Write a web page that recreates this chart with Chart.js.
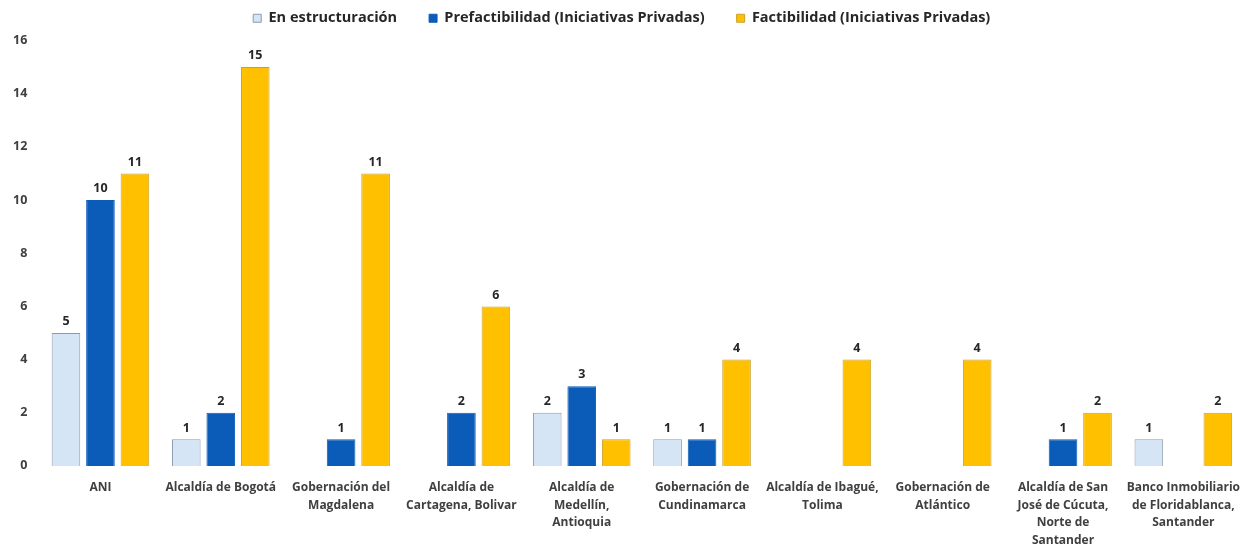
<!DOCTYPE html>
<html>
<head>
<meta charset="utf-8">
<script src="https://cdn.jsdelivr.net/npm/chart.js@4/dist/chart.umd.min.js"></script>
<style>
html,body{margin:0;padding:0;background:#fff;}
#wrap{width:1249px;height:547px;position:relative;}
</style>
</head>
<body>
<div id="wrap"><canvas id="c"></canvas></div>
<script>
const categories = [
  "ANI",
  "Alcaldía de Bogotá",
  ["Gobernación del", "Magdalena"],
  ["Alcaldía de", "Cartagena, Bolivar"],
  ["Alcaldía de", "Medellín,", "Antioquia"],
  ["Gobernación de", "Cundinamarca"],
  ["Alcaldía de Ibagué,", "Tolima"],
  ["Gobernación de", "Atlántico"],
  ["Alcaldía de San", "José de Cúcuta,", "Norte de", "Santander"],
  ["Banco Inmobiliario", "de Floridablanca,", "Santander"]
];
const seriesNames = ["En estructuración", "Prefactibilidad (Iniciativas Privadas)", "Factibilidad (Iniciativas Privadas)"];
const enEstructuracion = [5, 1, null, null, 2, 1, null, null, null, 1];
const prefactibilidad = [10, 2, 1, 2, 3, 1, null, null, 1, null];
const factibilidad = [11, 15, 11, 6, 1, 4, 4, 4, 2, 2];
const yTicks = [0, 2, 4, 6, 8, 10, 12, 14, 16];

const FONT = "'Open Sans', Lato, sans-serif";

const labelPlugin = {
  id: 'valueLabels',
  afterDatasetsDraw(chart) {
    const ctx = chart.ctx;
    ctx.save();
    ctx.font = "bold 12.5px " + FONT;
    ctx.fillStyle = "#262626";
    ctx.textAlign = "center";
    ctx.textBaseline = "bottom";
    chart.data.datasets.forEach((ds, i) => {
      const meta = chart.getDatasetMeta(i);
      meta.data.forEach((el, j) => {
        const v = ds.data[j];
        if (v === null || v === undefined || v === 0) return;
        ctx.fillText(String(v), el.x, el.y - 5);
      });
    });
    ctx.restore();
  }
};

// adjust the legend's reserved height (keeps wide horizontal spacing)
const legendFitPlugin = {
  id: 'legendFit',
  afterInit(chart) {
    const lg = chart.legend;
    if (!lg || lg._fitWrapped) return;
    const orig = lg.fit;
    lg.fit = function () {
      orig.apply(this, arguments);
      this.height = Math.max(0, this.height + 5);
    };
    lg._fitWrapped = true;
  }
};

new Chart(document.getElementById('c'), {
  type: 'bar',
  data: {
    labels: categories,
    datasets: [
      { label: seriesNames[0], data: enEstructuracion, backgroundColor: '#d5e5f6', borderColor: '#8c9aab', borderWidth: 1 },
      { label: seriesNames[1], data: prefactibilidad, backgroundColor: '#0b5cb8', borderColor: '#0b5cb8', borderWidth: 1 },
      { label: seriesNames[2], data: factibilidad, backgroundColor: '#ffc000', borderColor: '#c9a030', borderWidth: 1 }
    ]
  },
  options: {
    responsive: true,
    maintainAspectRatio: false,
    animation: false,
    layout: { padding: { left: 0, right: 5.5, top: -21, bottom: -15 } },
    datasets: { bar: { categoryPercentage: 0.86, barPercentage: 0.83 } },
    plugins: {
      legend: {
        position: 'top',
        labels: {
          font: { size: 14.5, weight: 'bold', family: FONT },
          color: '#262626',
          boxWidth: 8,
          boxHeight: 8,
          padding: 32
        }
      },
      tooltip: { enabled: false }
    },
    scales: {
      x: {
        grid: { display: false, drawTicks: false, tickLength: 0 },
        border: { display: false },
        afterFit(axis) { axis.paddingLeft = 0; axis.paddingRight = 0; },
        ticks: {
          font: { size: 12, weight: 'bold', family: FONT, lineHeight: 1.46 },
          color: '#404040',
          maxRotation: 0,
          autoSkip: false,
          padding: 13
        }
      },
      y: {
        min: 0,
        max: 16,
        grid: { display: false, drawTicks: false, tickLength: 0 },
        border: { display: false },
        afterBuildTicks(axis) { axis.ticks = yTicks.map(v => ({ value: v })); },
        ticks: {
          font: { size: 12.5, weight: 'bold', family: FONT },
          color: '#404040',
          padding: 13
        }
      }
    }
  },
  plugins: [labelPlugin, legendFitPlugin]
});
</script>
</body>
</html>
